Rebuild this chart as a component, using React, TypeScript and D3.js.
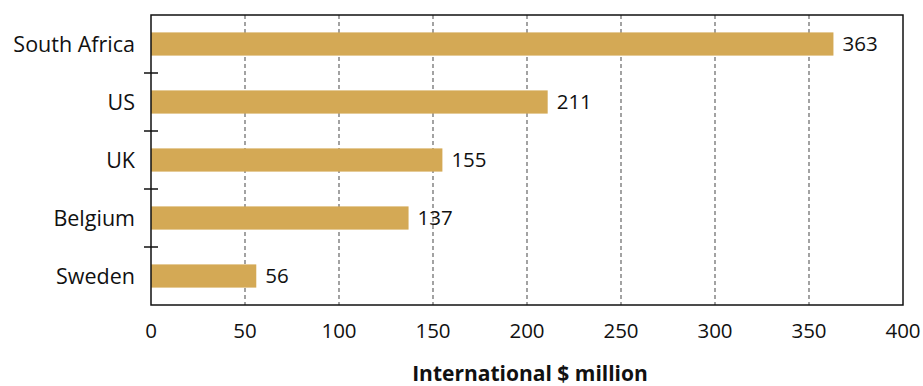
import React from "react";
import * as d3 from "d3";

const categories = ["South Africa", "US", "UK", "Belgium", "Sweden"];
const values = [363, 211, 155, 137, 56];
const xTicks = [0, 50, 100, 150, 200, 250, 300, 350, 400];
const xTitle = "International $ million";

const W = 923, H = 386;
const left = 151, right = 903, top = 15, bottom = 305;
const FONT = "'Open Sans', Lato, sans-serif";

export default function App() {
  const x = d3.scaleLinear().domain([0, 400]).range([left, right]);
  const y = d3.scaleBand().domain(categories).range([top, bottom]).paddingInner(0.6).paddingOuter(0.3);
  const band = d3.scaleBand().domain(categories).range([top, bottom]);
  const boundaries = categories.slice(1).map((c) => band(c)!);
  return (
    <svg width={W} height={H} style={{ position: "absolute", left: 0, top: 0 }}>
      <rect width={W} height={H} fill="#fff" />
      {xTicks.filter((t) => t > 0 && t < 400).map((t) => (
        <line key={t} x1={x(t)} x2={x(t)} y1={top} y2={bottom} stroke="#666" strokeWidth={1.2} strokeDasharray="4,3" />
      ))}
      {categories.map((c, i) => (
        <g key={c}>
          <rect x={x(0)} y={y(c)} width={x(values[i]) - x(0)} height={y.bandwidth()} fill="#D4A955" />
          <text x={x(values[i]) + 9} y={y(c)! + y.bandwidth() / 2} dy="0.35em" fontSize={20.5} fontFamily={FONT} fill="#111">{values[i]}</text>
          <text x={135} y={band(c)! + band.bandwidth() / 2} dy="0.35em" fontSize={21.5} fontFamily={FONT} textAnchor="end" fill="#111">{c}</text>
        </g>
      ))}
      <rect x={left} y={top} width={right - left} height={bottom - top} fill="none" stroke="#111" strokeWidth={1.5} />
      {boundaries.map((b, i) => (
        <line key={i} x1={144} x2={158} y1={b} y2={b} stroke="#111" strokeWidth={1.5} />
      ))}
      {xTicks.map((t) => (
        <text key={t} x={x(t)} y={338} fontSize={20.5} fontFamily={FONT} textAnchor="middle" fill="#111">{t}</text>
      ))}
      <text x={530} y={381} fontSize={21} fontWeight="bold" fontFamily={FONT} textAnchor="middle" fill="#111">{xTitle}</text>
    </svg>
  );
}
